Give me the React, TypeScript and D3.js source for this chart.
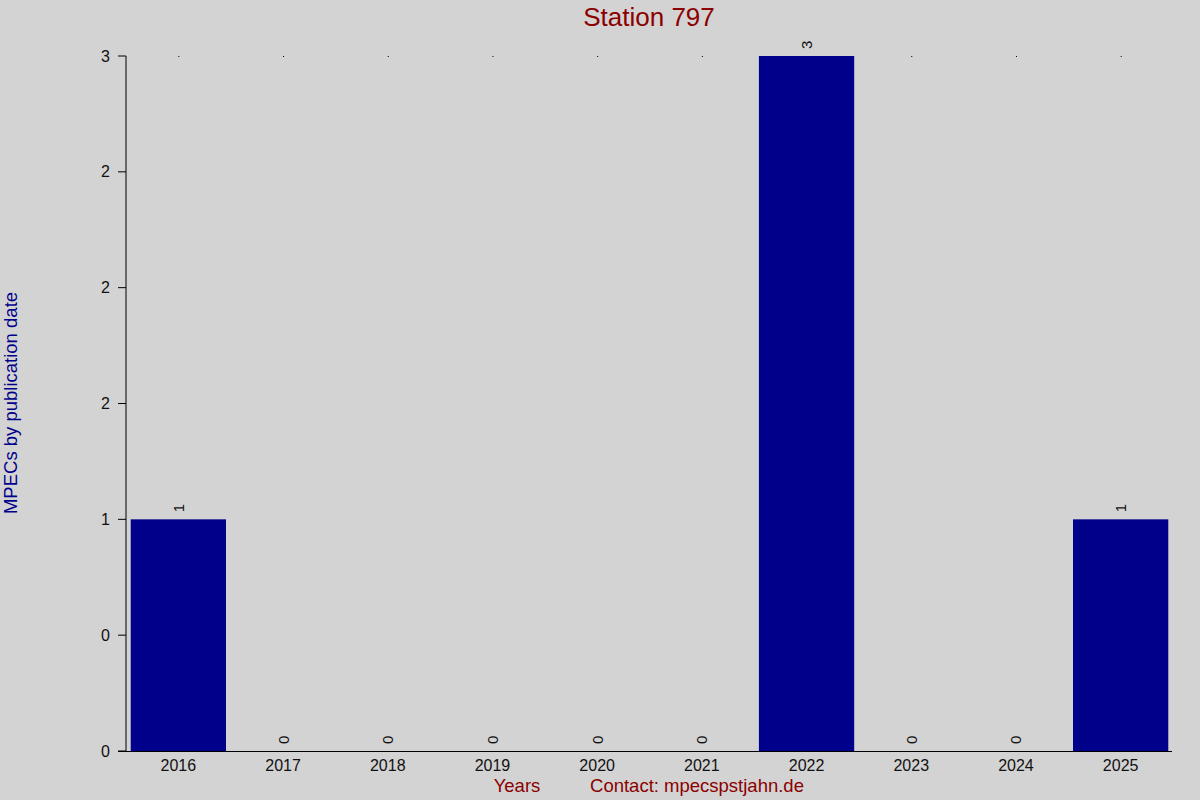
import * as d3 from 'd3'

const years = ['2016', '2017', '2018', '2019', '2020', '2021', '2022', '2023', '2024', '2025']
const counts = [1, 0, 0, 0, 0, 0, 3, 0, 0, 1]
const yTicks = [0, 0.5, 1, 1.5, 2, 2.5, 3]
const yTickLabels = ['0', '0', '1', '2', '2', '2', '3']

const width = 1200
const height = 800
const margin = { top: 56, right: 27, bottom: 49, left: 126 }

export default function App() {
  const x = d3.scaleBand()
    .domain(years)
    .range([margin.left, width - margin.right])
    .paddingInner(0.09)
    .paddingOuter(0.045)

  const y = d3.scaleLinear()
    .domain([0, 3])
    .range([height - margin.bottom, margin.top])

  const baseY = y(0)
  const font = 'Liberation Sans, Arial, sans-serif'

  return (
    <svg width={width} height={height} style={{ position: 'absolute', left: 0, top: 0 }} fontFamily={font}>
      <rect x={0} y={0} width={width} height={height} fill="#d3d3d3" />

      <text x={649} y={26} textAnchor="middle" fontSize={26} fill="#8b0000">Station 797</text>

      {/* small dots along the top */}
      {years.map(d => (
        <rect key={'dot' + d} x={x(d)! + x.bandwidth() / 2} y={y(3)} width={1} height={1} fill="#000" />
      ))}

      {/* bars */}
      {years.map((d, i) => (
        <rect key={'bar' + d}
          x={x(d)!}
          y={y(counts[i])}
          width={x.bandwidth()}
          height={baseY - y(counts[i])}
          fill="#00008b" />
      ))}

      {/* value labels */}
      {years.map((d, i) => {
        const cx = x(d)! + x.bandwidth() / 2
        const cy = y(counts[i]) - 7
        return (
          <text key={'val' + d} x={cx} y={cy} fontSize={15} fill="#111"
            transform={`rotate(-90,${cx},${cy})`} dominantBaseline="central">
            {counts[i]}
          </text>
        )
      })}

      {/* y axis */}
      <line x1={margin.left} x2={margin.left} y1={y(3)} y2={baseY} stroke="#000" />
      {yTicks.map((t, i) => (
        <g key={'yt' + i}>
          <line x1={margin.left - 8} x2={margin.left} y1={y(t)} y2={y(t)} stroke="#000" />
          <text x={margin.left - 16} y={y(t)} dy="0.35em" textAnchor="end" fontSize={16} fill="#111">
            {yTickLabels[i]}
          </text>
        </g>
      ))}

      {/* x axis */}
      <line x1={margin.left - 8} x2={width - margin.right - 1} y1={baseY + 0.5} y2={baseY + 0.5} stroke="#000" />
      {years.map(d => (
        <text key={'xt' + d} x={x(d)! + x.bandwidth() / 2} y={771} textAnchor="middle" fontSize={16} fill="#111">
          {d}
        </text>
      ))}

      <text transform="translate(17,403) rotate(-90)" textAnchor="middle" fontSize={18.5} fill="#00008b">
        MPECs by publication date
      </text>
      <text x={517} y={792} textAnchor="middle" fontSize={18.5} fill="#8b0000">Years</text>
      <text x={697} y={792} textAnchor="middle" fontSize={18.5} fill="#8b0000">Contact: mpecspstjahn.de</text>
    </svg>
  )
}
